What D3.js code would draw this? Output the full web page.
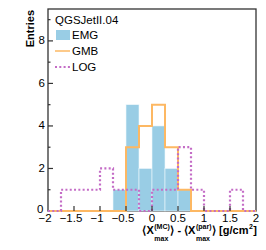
<!DOCTYPE html>
<html>
<head>
<meta charset="utf-8">
<script src="https://cdn.jsdelivr.net/npm/d3@7"></script>
<style>
  html, body { margin: 0; padding: 0; background: #fff; }
  svg { display: block; font-family: "Liberation Sans", Arial, Helvetica, sans-serif; }
</style>
</head>
<body>
<div id="chart"></div>
<script>
// bin edges -2 .. 2, width 0.25
const binEdges = [-2, -1.75, -1.5, -1.25, -1, -0.75, -0.5, -0.25, 0, 0.25, 0.5, 0.75, 1, 1.25, 1.5, 1.75, 2];
const emgCounts = [0, 0, 0, 0, 0, 1, 5, 2, 4, 2, 1, 0, 0, 0, 0, 0];
const gmbCounts = [0, 0, 0, 0, 0, 0, 3, 4, 5, 3, 1, 0, 0, 0, 0, 0];
const logCounts = [0, 1, 1, 1, 2, 1, 1, 0, 1, 1, 3, 1, 0, 0, 1, 0];
const xTicks = [-2, -1.5, -1, -0.5, 0, 0.5, 1, 1.5, 2];
const xTickLabels = ['\u22122', '\u22121.5', '\u22121', '\u22120.5', '0', '0.5', '1', '1.5', '2'];
const yTicks = [0, 2, 4, 6, 8];
const yMinorTicks = [1, 3, 5, 7, 9];
const legendItems = [
  { name: 'EMG', kind: 'fill' },
  { name: 'GMB', kind: 'line' },
  { name: 'LOG', kind: 'dot' }
];

const width = 266, height = 250;
const pLeft = 48, pRight = 256, pTop = 9, pBottom = 211;
const colEMG = '#99cde5', colGMB = '#fdb863', colLOG = '#c46cc6';

const svg = d3.select('#chart').append('svg')
  .attr('width', width)
  .attr('height', height);

const x = d3.scaleLinear().domain([-2, 2]).range([pLeft, pRight]);
const y = d3.scaleLinear().domain([0, 9.5]).range([pBottom, pTop]);

svg.append('clipPath').attr('id', 'clip')
  .append('rect')
  .attr('x', pLeft).attr('y', pTop)
  .attr('width', pRight - pLeft).attr('height', pBottom - pTop + 2);

// turn counts into step points, closed to 0 at both ends
const stepPoints = counts => {
  const pts = [[binEdges[0], 0]];
  counts.forEach((c, i) => pts.push([binEdges[i], c]));
  pts.push([binEdges[binEdges.length - 1], counts[counts.length - 1]]);
  pts.push([binEdges[binEdges.length - 1], 0]);
  return pts;
};

const line = d3.line()
  .x(d => x(d[0]))
  .y(d => y(d[1]))
  .curve(d3.curveStepAfter);

// frame
svg.append('rect')
  .attr('x', pLeft).attr('y', pTop)
  .attr('width', pRight - pLeft).attr('height', pBottom - pTop)
  .attr('fill', 'none')
  .attr('stroke', '#333')
  .attr('stroke-width', 1.3);

const plot = svg.append('g').attr('clip-path', 'url(#clip)');

// EMG filled bars, each bin outlined faintly
plot.append('g')
  .selectAll('rect')
  .data(emgCounts.map((c, i) => ({ x0: binEdges[i], x1: binEdges[i + 1], c })).filter(d => d.c > 0))
  .enter().append('rect')
  .attr('x', d => x(d.x0))
  .attr('y', d => y(d.c))
  .attr('width', d => x(d.x1) - x(d.x0))
  .attr('height', d => y(0) - y(d.c))
  .attr('fill', colEMG)
  .attr('stroke', '#eef7fb')
  .attr('stroke-width', 0.6);

plot.append('path')
  .attr('d', line(stepPoints(gmbCounts)))
  .attr('fill', 'none')
  .attr('stroke', colGMB)
  .attr('stroke-width', 2);

plot.append('path')
  .attr('d', line(stepPoints(logCounts)))
  .attr('fill', 'none')
  .attr('stroke', colLOG)
  .attr('stroke-width', 2.2)
  .attr('stroke-dasharray', '2,2.3');

// ticks (inside)
svg.append('g')
  .selectAll('line')
  .data(xTicks.slice(1, -1))
  .enter().append('line')
  .attr('x1', d => x(d)).attr('x2', d => x(d))
  .attr('y1', pBottom).attr('y2', pBottom - 5)
  .attr('stroke', '#333').attr('stroke-width', 1.2);

svg.append('g')
  .selectAll('line')
  .data(yTicks.slice(1))
  .enter().append('line')
  .attr('x1', pLeft).attr('x2', pLeft + 5)
  .attr('y1', d => y(d)).attr('y2', d => y(d))
  .attr('stroke', '#333').attr('stroke-width', 1.2);

svg.append('g')
  .selectAll('line')
  .data(yMinorTicks)
  .enter().append('line')
  .attr('x1', pLeft).attr('x2', pLeft + 2.5)
  .attr('y1', d => y(d)).attr('y2', d => y(d))
  .attr('stroke', '#333').attr('stroke-width', 1.2);

// tick labels
svg.append('g')
  .selectAll('text')
  .data(xTicks)
  .enter().append('text')
  .attr('x', (d, i) => x(d) + (xTickLabels[i].startsWith('\u2212') ? -3 : 0))
  .attr('y', 221.5)
  .attr('text-anchor', 'middle')
  .attr('font-size', 11.5)
  .text((d, i) => xTickLabels[i]);

// "0" sits a touch up-left so it clears the "−2" below it
svg.append('g')
  .selectAll('text')
  .data(yTicks)
  .enter().append('text')
  .attr('x', d => d === 0 ? 43.5 : 45)
  .attr('y', d => y(d) + (d === 0 ? 1.5 : 3.5))
  .attr('text-anchor', 'end')
  .attr('font-size', 11.5)
  .text(d => d);

// y title
svg.append('text')
  .attr('transform', 'translate(34,10) rotate(-90)')
  .attr('text-anchor', 'end')
  .attr('font-size', 11)
  .attr('font-weight', 'bold')
  .text('Entries');

// x title: <X_max^(MC)> - <X_max^(par)> [g/cm^2], built piece by piece
const title = svg.append('g').attr('font-weight', 'bold');
const pieces = [
  { t: '\u27e8X' },
  { sup: '(MC)', sub: 'max' },
  { t: '\u27e9 - \u27e8X' },
  { sup: '(par)', sub: 'max' },
  { t: '\u27e9 [g/cm' },
  { sup: '2' },
  { t: ']' }
];
let cx = 0;
const base = 234;
pieces.forEach(p => {
  if (p.t) {
    const el = title.append('text').attr('x', cx).attr('y', base).attr('font-size', 11).text(p.t);
    cx += el.node().getComputedTextLength();
  } else {
    let w = 0;
    if (p.sup) {
      const s = title.append('text').attr('x', cx + 0.5).attr('y', base - 5.5).attr('font-size', 7).text(p.sup);
      w = Math.max(w, s.node().getComputedTextLength());
    }
    if (p.sub) {
      const s = title.append('text').attr('x', cx + 0.5).attr('y', base + 6.5).attr('font-size', 7).text(p.sub);
      w = Math.max(w, s.node().getComputedTextLength());
    }
    cx += w + 1;
  }
});
title.attr('transform', `translate(${257 - cx},0)`);

// legend
const lg = svg.append('g').attr('font-size', 11.5);
lg.append('text').attr('x', 55).attr('y', 24).text('QGSJetII.04');
legendItems.forEach((d, i) => {
  const cy = 35 + i * 16;
  if (d.kind === 'fill') {
    lg.append('rect').attr('x', 56).attr('y', cy - 5).attr('width', 14).attr('height', 10).attr('fill', colEMG);
  } else {
    lg.append('line')
      .attr('x1', 55).attr('x2', 70).attr('y1', cy).attr('y2', cy)
      .attr('stroke', d.kind === 'line' ? colGMB : colLOG)
      .attr('stroke-width', d.kind === 'line' ? 1.5 : 2)
      .attr('stroke-dasharray', d.kind === 'dot' ? '2,2.3' : null);
  }
  lg.append('text').attr('x', 72).attr('y', cy + 4).text(d.name);
});
</script>
</body>
</html>
